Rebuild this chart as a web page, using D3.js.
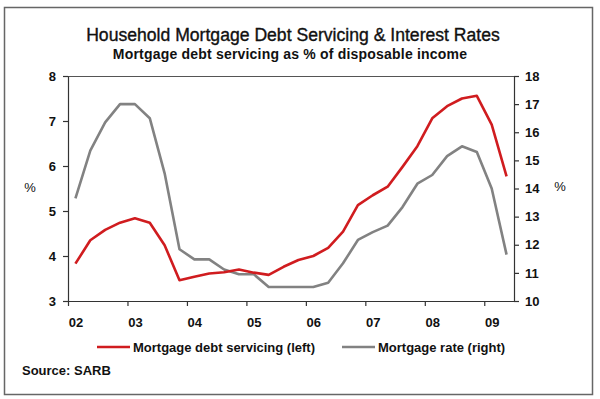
<!DOCTYPE html>
<html lang="en">
  <head>
    <meta charset="UTF-8" />
    <title>Household Mortgage Debt Servicing</title>
    <style>
      body { margin: 0; background: #fff; }
      text { font-family: Arial, "Liberation Sans", sans-serif; fill: #111; }
      .axis text { font-size: 13px; font-weight: bold; }
      .axis path, .axis line { stroke: #333; stroke-width: 1.2px; }
      .debt-line { fill: none; stroke: #d01c1f; stroke-width: 2.6px; stroke-linejoin: round; }
      .rate-line { fill: none; stroke: #828282; stroke-width: 2.6px; stroke-linejoin: round; }
    </style>
  </head>
  <body>
    <script src="https://cdn.jsdelivr.net/npm/d3@7"></script>
    <script>

      // quarterly observations, 2002Q1 - 2009Q2
      var quarters = ["2002Q1","2002Q2","2002Q3","2002Q4","2003Q1","2003Q2","2003Q3","2003Q4",
                      "2004Q1","2004Q2","2004Q3","2004Q4","2005Q1","2005Q2","2005Q3","2005Q4",
                      "2006Q1","2006Q2","2006Q3","2006Q4","2007Q1","2007Q2","2007Q3","2007Q4",
                      "2008Q1","2008Q2","2008Q3","2008Q4","2009Q1","2009Q2"];

      // mortgage debt servicing, % of disposable income (left axis)
      var debtServicing = [3.83, 4.35, 4.58, 4.74, 4.84, 4.74, 4.24, 3.46,
                           3.54, 3.61, 3.64, 3.70, 3.63, 3.58, 3.76, 3.91,
                           4.00, 4.18, 4.54, 5.13, 5.35, 5.54, 5.98, 6.44,
                           7.06, 7.33, 7.50, 7.56, 6.92, 5.77];

      // mortgage rate, % (right axis)
      var mortgageRate = [13.65, 15.35, 16.35, 17.0, 17.0, 16.5, 14.54, 11.84,
                          11.48, 11.48, 11.12, 10.95, 10.95, 10.5, 10.5, 10.5,
                          10.5, 10.65, 11.34, 12.17, 12.45, 12.68, 13.34, 14.17,
                          14.48, 15.15, 15.5, 15.3, 14.0, 11.65];

      var years = [2002, 2003, 2004, 2005, 2006, 2007, 2008, 2009];
      var leftTicks = [3, 4, 5, 6, 7, 8];
      var rightTicks = [10, 11, 12, 13, 14, 15, 16, 17, 18];

      // quarter mid-points as decimal years
      function qTime(q) {
        return +q.slice(0, 4) + (+q.slice(5) - 0.5) / 4;
      }

      var w = 600, h = 399;
      var plot = { left: 68, right: 514, top: 76, bottom: 301 };

      var svg = d3.select("body").append("svg")
        .attr("width", w)
        .attr("height", h);

      // outer frame
      svg.append("rect")
        .attr("x", 4.5).attr("y", 7.5)
        .attr("width", 588).attr("height", 387)
        .attr("fill", "none")
        .attr("stroke", "#666")
        .attr("stroke-width", 1.5);

      var xScale = d3.scaleLinear()
        .domain([2002, 2009.5])
        .range([plot.left, plot.right]);

      var yLeft = d3.scaleLinear()
        .domain([3, 8])
        .range([plot.bottom, plot.top]);

      var yRight = d3.scaleLinear()
        .domain([10, 18])
        .range([plot.bottom, plot.top]);

      // top edge of the plot area
      svg.append("line")
        .attr("x1", plot.left).attr("x2", plot.right)
        .attr("y1", plot.top + 0.5).attr("y2", plot.top + 0.5)
        .attr("stroke", "#555")
        .attr("stroke-width", 1.2);

      var xAxis = d3.axisBottom(xScale)
        .tickValues(years)
        .tickSize(5)
        .tickSizeOuter(0)
        .tickPadding(12)
        .tickFormat(function(d) { return String(d).slice(2); });

      var gx = svg.append("g")
        .attr("class", "axis")
        .attr("transform", "translate(0," + plot.bottom + ")")
        .call(xAxis);

      // year labels sit under the first quarter of each year
      gx.selectAll(".tick text")
        .attr("x", xScale(2002.125) - xScale(2002));

      svg.append("g")
        .attr("class", "axis")
        .attr("transform", "translate(" + plot.left + ",0)")
        .call(d3.axisLeft(yLeft).tickValues(leftTicks).tickFormat(d3.format("d"))
          .tickSize(5).tickSizeOuter(0).tickPadding(7));

      svg.append("g")
        .attr("class", "axis")
        .attr("transform", "translate(" + plot.right + ",0)")
        .call(d3.axisRight(yRight).tickValues(rightTicks).tickFormat(d3.format("d"))
          .tickSize(5).tickSizeOuter(0).tickPadding(6));

      var debtData = quarters.map(function(q, i) { return { t: qTime(q), v: debtServicing[i] }; });
      var rateData = quarters.map(function(q, i) { return { t: qTime(q), v: mortgageRate[i] }; });

      svg.append("path")
        .datum(rateData)
        .attr("class", "rate-line")
        .attr("d", d3.line()
          .x(function(d) { return xScale(d.t); })
          .y(function(d) { return yRight(d.v); }));

      svg.append("path")
        .datum(debtData)
        .attr("class", "debt-line")
        .attr("d", d3.line()
          .x(function(d) { return xScale(d.t); })
          .y(function(d) { return yLeft(d.v); }));

      // axis unit labels
      svg.append("text")
        .attr("x", 30).attr("y", 192)
        .attr("text-anchor", "middle")
        .style("font-size", "13px")
        .text("%");

      svg.append("text")
        .attr("x", 560).attr("y", 191)
        .attr("text-anchor", "middle")
        .style("font-size", "13px")
        .text("%");

      // titles
      svg.append("text")
        .attr("x", 293).attr("y", 40.5)
        .attr("text-anchor", "middle")
        .style("font-size", "17.6px")
        .style("stroke", "#111")
        .style("stroke-width", "0.35px")
        .text("Household Mortgage Debt Servicing & Interest Rates");

      svg.append("text")
        .attr("x", 290).attr("y", 59)
        .attr("text-anchor", "middle")
        .style("font-size", "14px")
        .style("font-weight", "bold")
        .style("letter-spacing", "0.2px")
        .text("Mortgage debt servicing as % of disposable income");

      // legend
      var legend = [
        { label: "Mortgage debt servicing (left)", cls: "debt-line", x: 97 },
        { label: "Mortgage rate (right)", cls: "rate-line", x: 342 }
      ];

      legend.forEach(function(d) {
        svg.append("line")
          .attr("class", d.cls)
          .attr("x1", d.x).attr("x2", d.x + 33)
          .attr("y1", 347).attr("y2", 347);
        svg.append("text")
          .attr("x", d.x + 36).attr("y", 351.5)
          .style("font-size", "13px")
          .style("font-weight", "bold")
          .text(d.label);
      });

      svg.append("text")
        .attr("x", 22).attr("y", 375)
        .style("font-size", "13px")
        .style("font-weight", "bold")
        .text("Source: SARB");

    </script>
  </body>
</html>
